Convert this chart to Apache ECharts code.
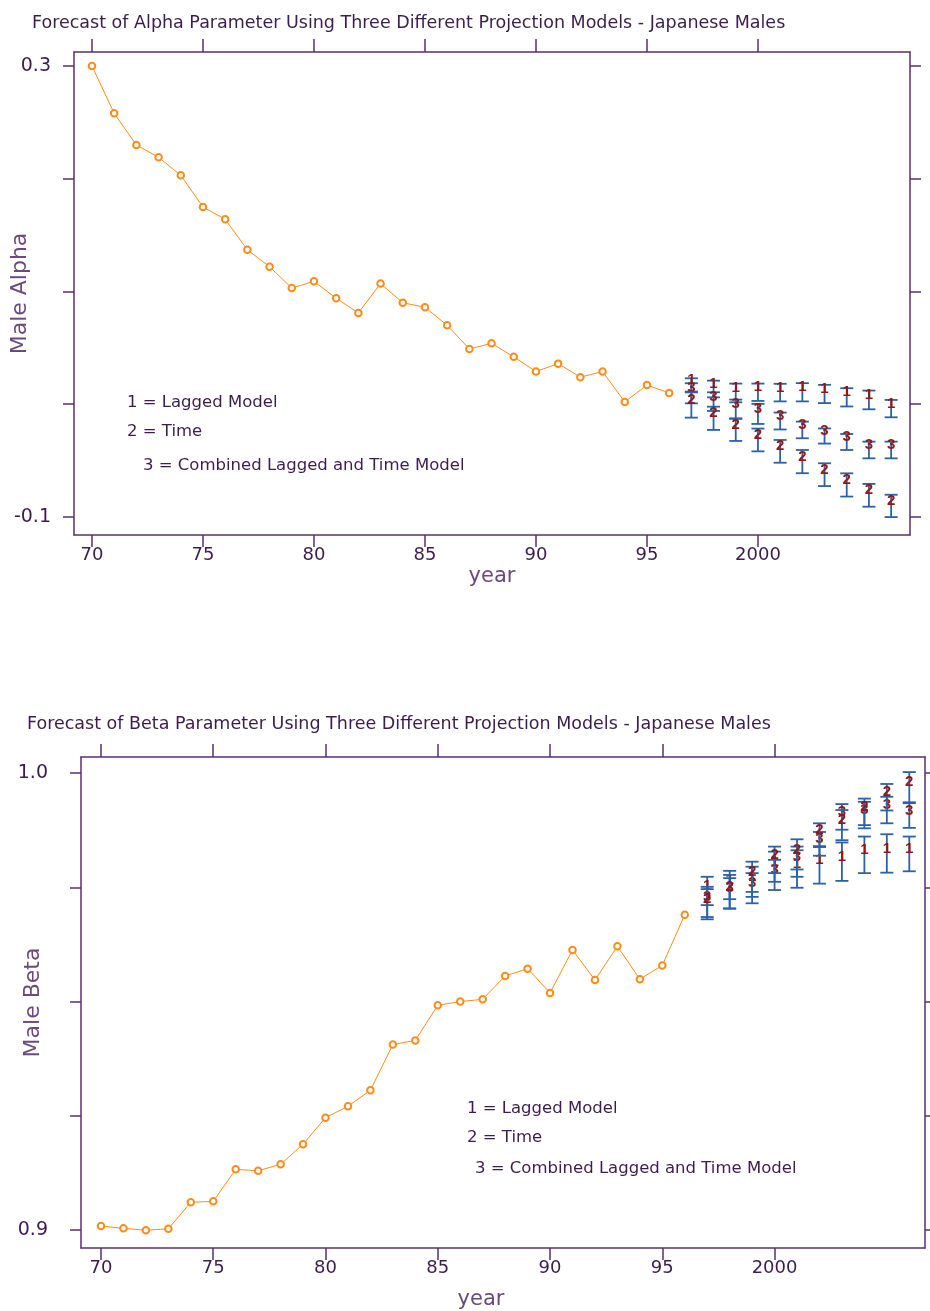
<!DOCTYPE html>
<html>
<head>
<meta charset="utf-8">
<script src="https://cdn.jsdelivr.net/npm/echarts@6.0.0/dist/echarts.min.js"></script>
<style>
html,body{margin:0;padding:0;background:#fff;}
#chart{width:930px;height:1311px;}
</style>
</head>
<body>
<div id="chart"></div>
<script>
// ---------- data ----------
const obsYears = [1970,1971,1972,1973,1974,1975,1976,1977,1978,1979,1980,1981,1982,1983,1984,1985,1986,1987,1988,1989,1990,1991,1992,1993,1994,1995,1996];
const alphaObs = [0.300,0.258,0.230,0.219,0.203,0.175,0.164,0.137,0.122,0.103,0.109,0.094,0.081,0.107,0.090,0.086,0.070,0.049,0.054,0.042,0.029,0.036,0.024,0.029,0.002,0.017,0.010];
const betaObs = [0.9009,0.9004,0.9000,0.9003,0.9061,0.9063,0.9133,0.9130,0.9144,0.9188,0.9246,0.9271,0.9306,0.9406,0.9415,0.9492,0.9500,0.9505,0.9556,0.9572,0.9519,0.9613,0.9547,0.9621,0.9549,0.9579,0.9690];

const fcYears = [1997,1998,1999,2000,2001,2002,2003,2004,2005,2006];
// alpha forecasts: point and half-width of interval
const alphaLagged = [0.0171,0.0135,0.0100,0.0106,0.0103,0.0106,0.0091,0.0061,0.0038,-0.0039];
const alphaLaggedHalf = [0.0059,0.0074,0.0083,0.0077,0.0078,0.0081,0.0081,0.0081,0.0083,0.0077];
const alphaTime = [-0.0007,-0.0125,-0.0228,-0.0317,-0.0418,-0.0509,-0.0625,-0.0716,-0.0808,-0.0902];
const alphaTimeHalf = [0.0112,0.0103,0.0098,0.0101,0.0101,0.0103,0.0101,0.0103,0.0101,0.0099];
const alphaComb = [0.0097,0.0023,-0.0042,-0.0086,-0.0149,-0.0228,-0.0282,-0.0335,-0.0406,-0.0406];
const alphaCombHalf = [0.0089,0.0083,0.0083,0.0089,0.0075,0.0074,0.0067,0.0071,0.0074,0.0074];
// beta forecasts
const betaLagged = [0.9742,0.9755,0.9762,0.9795,0.9790,0.9799,0.9806,0.9821,0.9824,0.9823];
const betaLaggedHalf = [0.0031,0.0031,0.0033,0.0033,0.0041,0.0041,0.0042,0.0040,0.0042,0.0038];
const betaTime = [0.9713,0.9740,0.9773,0.9810,0.9822,0.9864,0.9886,0.9915,0.9947,0.9969];
const betaTimeHalf = [0.0033,0.0037,0.0033,0.0029,0.0033,0.0026,0.0033,0.0029,0.0029,0.0033];
const betaComb = [0.9718,0.9737,0.9748,0.9777,0.9806,0.9845,0.9904,0.9908,0.9919,0.9907];
const betaCombHalf = [0.0033,0.0033,0.0033,0.0033,0.0033,0.0026,0.0028,0.0029,0.0029,0.0027];

const xTickYears = [1970,1975,1980,1985,1990,1995,2000];
const alphaTicks = [0.3,0.2,0.1,0.0,-0.1];
const alphaLabels = [0.3,-0.1];
const betaTicks = [1.0,0.975,0.95,0.925,0.9];
const betaLabels = [1.0,0.9];

const titles = [
  'Forecast of Alpha Parameter Using Three Different Projection Models - Japanese Males',
  'Forecast of Beta Parameter Using Three Different Projection Models - Japanese Males'
];
const legendLines = ['1 = Lagged Model','2 = Time','3 = Combined Lagged and Time Model'];

// ---------- style ----------
const AXIS = '#57306a';
const TXT = '#3b1d4d';
const NAME = '#6a4a7c';
const ORANGE = '#ff8c1a';
const BLUE = '#2b62a6';
const RED = '#961414';
const FONT = 'Liberation Sans, Arial, sans-serif';
const WIDE = 'DejaVu Sans, sans-serif';

function yearFmt(v){ v = Math.round(v); return v >= 2000 ? String(v) : String(v - 1900); }

function xAxes(gi, min, max, nameGap, namePad){
  return [{
    type:'value', gridIndex:gi, position:'bottom', min:min, max:max,
    name:'year', nameLocation:'middle', nameGap:nameGap, nameMoveOverlap:false,
    nameTextStyle:{color:NAME, fontSize:21, fontFamily:WIDE, padding:namePad},
    axisLine:{show:true, onZero:false, lineStyle:{color:AXIS, width:1.5}},
    axisTick:{show:true, length:12, customValues:xTickYears, lineStyle:{color:AXIS, width:1.5}},
    axisLabel:{show:true, customValues:xTickYears, formatter:yearFmt, color:TXT, fontSize:18, fontFamily:WIDE, margin:11},
    splitLine:{show:false}
  },{
    type:'value', gridIndex:gi, position:'top', min:min, max:max,
    axisLine:{show:true, onZero:false, lineStyle:{color:AXIS, width:1.5}},
    axisTick:{show:true, length:13, customValues:xTickYears, lineStyle:{color:AXIS, width:1.5}},
    axisLabel:{show:false},
    splitLine:{show:false}
  }];
}
function yAxes(gi, min, max, ticks, labels, name, nameGap, margin){
  return [{
    type:'value', gridIndex:gi, position:'left', min:min, max:max,
    name:name, nameLocation:'middle', nameGap:nameGap, nameMoveOverlap:false,
    nameTextStyle:{color:NAME, fontSize:22, fontFamily:WIDE},
    axisLine:{show:true, onZero:false, lineStyle:{color:AXIS, width:1.5}},
    axisTick:{show:true, length:11, customValues:ticks, lineStyle:{color:AXIS, width:1.5}},
    axisLabel:{show:true, customValues:labels, formatter:v=>v.toFixed(1), color:TXT, fontSize:19, fontFamily:WIDE, margin:margin},
    splitLine:{show:false}
  },{
    type:'value', gridIndex:gi, position:'right', min:min, max:max,
    axisLine:{show:true, onZero:false, lineStyle:{color:AXIS, width:1.5}},
    axisTick:{show:true, length:11, customValues:ticks, lineStyle:{color:AXIS, width:1.5}},
    axisLabel:{show:false},
    splitLine:{show:false}
  }];
}

function makeRender(digit){
  return function(params, api){
    const x = api.value(0), v = api.value(1), lo = api.value(2), hi = api.value(3);
    const pT = api.coord([x, hi]), pB = api.coord([x, lo]), pV = api.coord([x, v]);
    const cw = 6.5;
    const st = {stroke:BLUE, lineWidth:1.8};
    return {type:'group', children:[
      {type:'line', shape:{x1:pT[0], y1:pT[1], x2:pB[0], y2:pB[1]}, style:st},
      {type:'line', shape:{x1:pT[0]-cw, y1:pT[1], x2:pT[0]+cw, y2:pT[1]}, style:st},
      {type:'line', shape:{x1:pB[0]-cw, y1:pB[1], x2:pB[0]+cw, y2:pB[1]}, style:st},
      {type:'text', x:pV[0], y:pV[1]-5, style:{text:digit, fill:RED, font:'bold 15px ' + FONT, align:'center', verticalAlign:'middle'}}
    ]};
  };
}
function fcData(vals, halves){
  return fcYears.map((y,i)=>[y, vals[i], vals[i]-halves[i], vals[i]+halves[i]]);
}
function obsData(vals){ return obsYears.map((y,i)=>[y, vals[i]]); }

function fcSeries(name, digit, vals, halves, xi, yi){
  return {type:'custom', name:name, xAxisIndex:xi, yAxisIndex:yi, renderItem:makeRender(digit),
    data:fcData(vals, halves), encode:{x:0, y:[1,2,3]}, clip:false, z:3};
}
function obsSeries(name, vals, xi, yi){
  return {type:'line', name:name, xAxisIndex:xi, yAxisIndex:yi, data:obsData(vals),
    symbol:'emptyCircle', symbolSize:6.5, showSymbol:true,
    lineStyle:{color:ORANGE, width:1}, itemStyle:{color:ORANGE, borderColor:ORANGE, borderWidth:1},
    z:2, animation:false};
}

function legendGraphics(x1, y1, x3, y3, gap){
  const f = '16.5px DejaVu Sans';
  return [
    {type:'text', left:x1, top:y1, style:{text:legendLines[0], fill:TXT, font:f}},
    {type:'text', left:x1, top:y1+gap, style:{text:legendLines[1], fill:TXT, font:f}},
    {type:'text', left:x3, top:y3, style:{text:legendLines[2], fill:TXT, font:f}}
  ];
}

const option = {
  backgroundColor:'#ffffff',
  animation:false,
  title:[
    {text:titles[0], left:27, top:9, textStyle:{color:TXT, fontSize:17.5, fontWeight:'normal', fontFamily:'DejaVu Sans'}},
    {text:titles[1], left:22, top:710, textStyle:{color:TXT, fontSize:17.5, fontWeight:'normal', fontFamily:'DejaVu Sans'}}
  ],
  grid:[
    {left:74, top:52, width:836, height:483, outerBoundsMode:'none', containLabel:false},
    {left:81, top:757, width:844, height:491, outerBoundsMode:'none', containLabel:false}
  ],
  xAxis:[].concat(xAxes(0, 1969.19, 2006.85, 31, 0), xAxes(1, 1969.11, 2006.70, 41, [0,44,0,0])),
  yAxis:[].concat(
    yAxes(0, -0.116, 0.3124, alphaTicks, alphaLabels, 'Male Alpha', 43, 23),
    yAxes(1, 0.8961, 1.0035, betaTicks, betaLabels, 'Male Beta', 37, 33)
  ),
  graphic:[].concat(
    legendGraphics(127, 394, 143, 457, 29),
    legendGraphics(467, 1100, 475, 1160, 29)
  ),
  series:[
    obsSeries('Alpha observed', alphaObs, 0, 0),
    fcSeries('Alpha lagged', '1', alphaLagged, alphaLaggedHalf, 0, 0),
    fcSeries('Alpha combined', '3', alphaComb, alphaCombHalf, 0, 0),
    fcSeries('Alpha time', '2', alphaTime, alphaTimeHalf, 0, 0),
    obsSeries('Beta observed', betaObs, 2, 2),
    fcSeries('Beta lagged', '1', betaLagged, betaLaggedHalf, 2, 2),
    fcSeries('Beta combined', '3', betaComb, betaCombHalf, 2, 2),
    fcSeries('Beta time', '2', betaTime, betaTimeHalf, 2, 2)
  ]
};

const chart = echarts.init(document.getElementById('chart'), null, {renderer:'canvas'});
chart.setOption(option);
</script>
</body>
</html>
